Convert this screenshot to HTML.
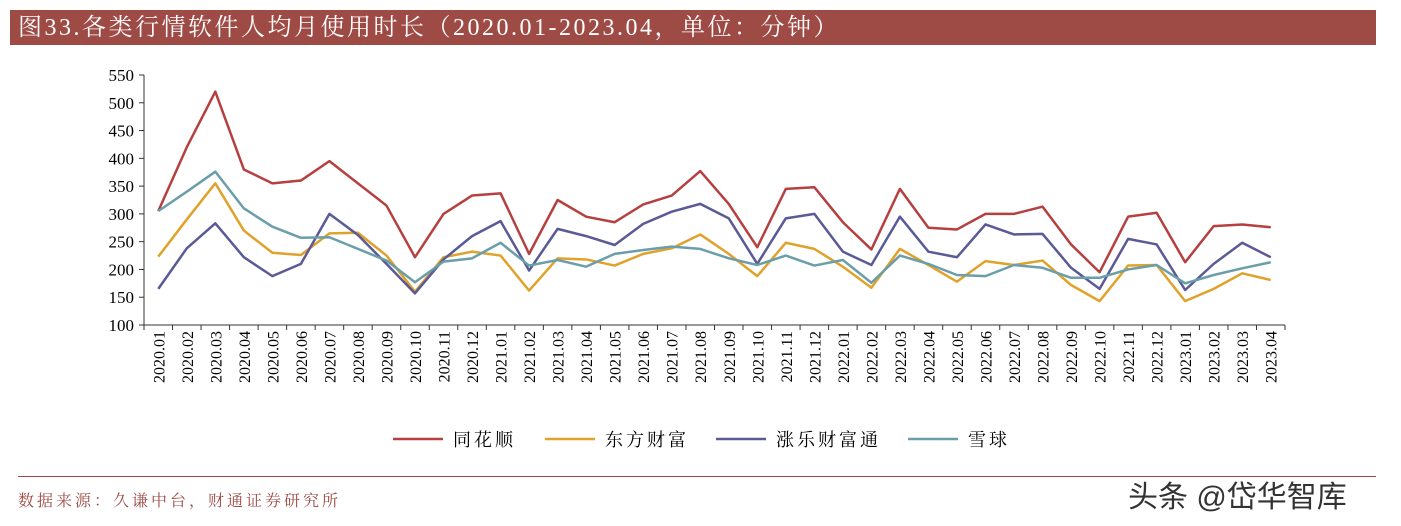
<!DOCTYPE html>
<html><head><meta charset="utf-8"><style>
body{margin:0;background:#fff;width:1401px;height:526px;overflow:hidden;position:relative;font-family:"Liberation Serif","Noto Serif CJK SC",serif}
#title{position:absolute;left:10px;top:10px;width:1366px;height:35px;background:#9e4a45;color:#fff;font-size:24px;line-height:36px;padding-left:8px;box-sizing:border-box;letter-spacing:2.5px;white-space:nowrap}
#src{position:absolute;left:18px;top:488px;font-size:16px;color:#9e4a45;letter-spacing:3px}
#rule{position:absolute;left:18px;top:476px;width:1358px;height:1px;background:#9e4a45}
#wm{position:absolute;left:1128px;top:472px;font-size:30px;color:#333;font-family:"Liberation Sans","Noto Sans CJK SC",sans-serif}
</style></head><body>
<div id="title">图33.各类行情软件人均月使用时长（2020.01-2023.04，单位：分钟）</div>
<svg id="chart" width="1401" height="526" style="position:absolute;left:0;top:0"></svg>
<div id="rule"></div>
<div id="src">数据来源：久谦中台，财通证券研究所</div>
<div id="wm">头条 @岱华智库</div>
<script>
const categories=[];for(let y=2020;y<=2023;y++)for(let m=1;m<=12;m++){if(y===2023&&m>4)break;categories.push(y+'.'+String(m).padStart(2,'0'));}
const yTicks=[100,150,200,250,300,350,400,450,500,550];
const seriesNames=['同花顺','东方财富','涨乐财富通','雪球'];
const seriesColors=['#b5403f','#e0a22a','#5a5a96','#6a9eaa'];
const thsValues=[305,420,520,380,355,360,395,355,315,222,300,333,337,228,325,295,285,317,333,377,318,240,345,348,285,236,345,275,272,300,300,313,245,195,295,302,213,278,281,276];
const dfcfValues=[223,290,355,270,230,226,265,266,225,160,222,232,225,162,220,218,207,228,238,263,228,188,248,237,205,167,237,208,178,215,208,216,172,143,207,208,143,165,193,181];
const zlValues=[165,238,283,222,188,210,300,262,210,157,218,260,287,198,273,260,244,282,304,318,292,210,292,300,232,208,295,232,222,281,263,264,203,165,255,245,163,210,248,222];
const xqValues=[305,340,376,310,277,257,258,237,216,177,214,220,248,207,217,205,228,235,241,237,220,208,225,207,217,176,225,210,190,188,208,203,185,185,200,208,175,190,202,213];
const allSeries=[thsValues,dfcfValues,zlValues,xqValues];
const NS='http://www.w3.org/2000/svg',svg=document.getElementById('chart');
const x0=144,x1=1285,yB=325,yT=75;
const step=(x1-x0)/categories.length;
const X=i=>x0+step*(i+0.5), Y=v=>yB-(v-100)/(550-100)*(yB-yT);
function mk(t,a){const e=document.createElementNS(NS,t);for(const k in a)e.setAttribute(k,a[k]);svg.appendChild(e);return e;}
let e=mk('line',{x1:x0,y1:yT,x2:x0,y2:yB,stroke:'#333','stroke-width':1});

e=mk('line',{x1:x0,y1:yB,x2:x1,y2:yB,stroke:'#333','stroke-width':1});

yTicks.forEach(v=>{mk('line',{x1:x0-5,y1:Y(v),x2:x0,y2:Y(v),stroke:'#333'});
 const t=mk('text',{x:x0-10,y:Y(v)+6,'text-anchor':'end','font-size':17,fill:'#000'});t.textContent=v;
 });
for(let i=0;i<=categories.length;i++)mk('line',{x1:x0+step*i,y1:yB,x2:x0+step*i,y2:yB+5,stroke:'#333'});
categories.forEach((c,i)=>{const t=mk('text',{transform:`translate(${X(i)+6},${yB+6}) rotate(-90)`,'text-anchor':'end','font-size':16,fill:'#000'});t.textContent=c;
 });
allSeries.forEach((s,k)=>{const p=mk('polyline',{points:s.map((v,i)=>X(i)+','+Y(v)).join(' '),fill:'none',stroke:seriesColors[k],'stroke-width':2.5,'stroke-linejoin':'round'});
 });
const lx=[393,545,716,908];
seriesNames.forEach((n,k)=>{mk('line',{x1:lx[k],y1:439,x2:lx[k]+50,y2:439,stroke:seriesColors[k],'stroke-width':2.5});
 const t=mk('text',{x:lx[k]+60,y:446,'font-size':18,fill:'#000','letter-spacing':3});t.textContent=n;
 });
</script>
</body></html>
